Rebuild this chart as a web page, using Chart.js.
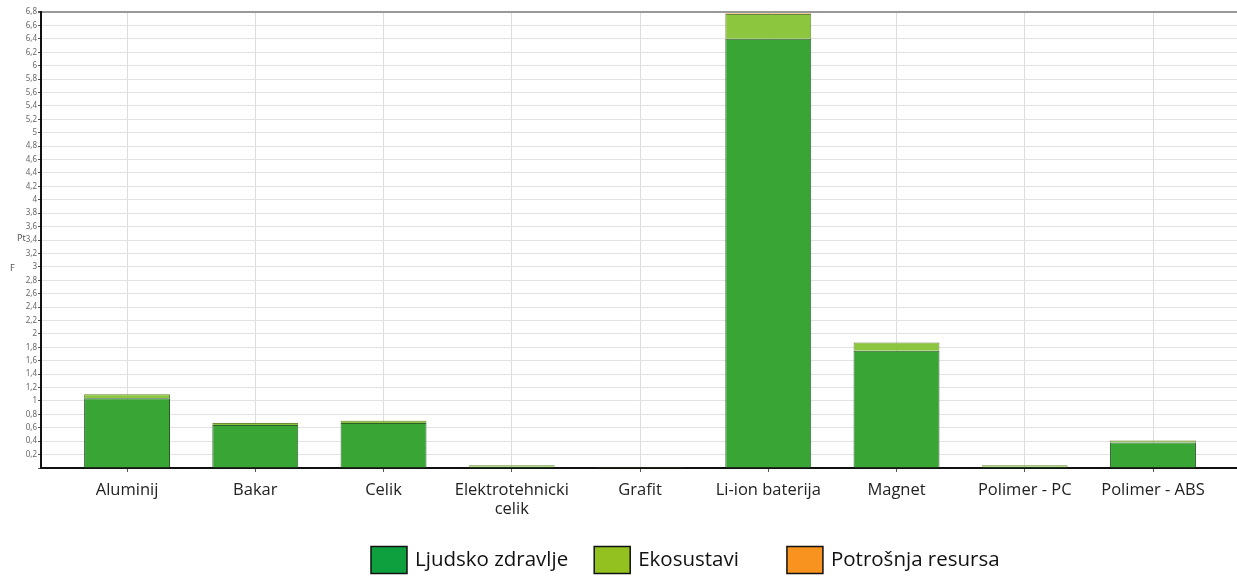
<!DOCTYPE html>
<html lang="hr">
<head>
    <meta charset="UTF-8">
    <title>Rezultati po materijalima</title>
    <style>
        * { margin: 0; padding: 0; }
        body { background: white; }
        #wrap { width: 1237px; height: 583px; }
    </style>
</head>
<body>
    <div id="wrap"><canvas id="chart" width="1237" height="583"></canvas></div>

    <script src="https://cdn.jsdelivr.net/npm/chart.js"></script>
    <script>
        // kategorije (materijali)
        const materijali = ['Aluminij', 'Bakar', 'Celik', ['Elektrotehnicki', 'celik'], 'Grafit',
            'Li-ion baterija', 'Magnet', 'Polimer - PC', 'Polimer - ABS'];

        // vrijednosti u Pt, ocitane sa slike
        const ljudskoZdravlje = [1.04, 0.64, 0.67, 0.02, 0.003, 6.40, 1.75, 0.02, 0.38];
        const ekosustavi      = [0.06, 0.03, 0.035, 0.02, 0.002, 0.37, 0.12, 0.02, 0.03];
        const potrosnja       = [0.005, 0.004, 0.004, 0.001, 0.001, 0.01, 0.005, 0.001, 0.003];

        const yMax = 6.8;
        const yStep = 0.2;

        const toPoints = arr => arr.map((v, i) => ({ x: i, y: v }));

        const legendFill = ['#0ea03e', '#92c120', '#f7931e'];

        // legenda ispod grafa - razmaci kao na originalu (nije centrirana)
        const bottomLegend = {
            id: 'bottomLegend',
            afterDraw(chart) {
                const c = chart.ctx;
                const boxW = 36, boxH = 27, textGap = 8;
                const gaps = [26, 48];
                const yMid = 560;
                let x = 371;
                c.save();
                c.font = '20.5px "Open Sans"';
                c.textBaseline = 'middle';
                chart.data.datasets.forEach((ds, i) => {
                    c.fillStyle = legendFill[i];
                    c.fillRect(x, yMid - boxH / 2, boxW, boxH);
                    c.lineWidth = 1.5;
                    c.strokeStyle = '#111';
                    c.strokeRect(x, yMid - boxH / 2, boxW, boxH);
                    c.fillStyle = '#111';
                    const tx = x + boxW + textGap;
                    c.fillText(ds.label, tx, yMid);
                    x = tx + c.measureText(ds.label).width + (gaps[i] || 0);
                });
                // mali tekst uz os Y (kao na originalu)
                c.fillStyle = '#555';
                c.font = '9px "Noto Sans"';
                c.textBaseline = 'alphabetic';
                c.fillText('Pt', 17, 241);
                c.fillText('F', 10, 271);
                c.restore();
            }
        };

        new Chart(document.getElementById('chart'), {
            type: 'bar',
            data: {
                datasets: [
                    {
                        label: 'Ljudsko zdravlje',
                        data: toPoints(ljudskoZdravlje),
                        backgroundColor: '#38a534',
                        borderColor: '#2b5e2a',
                        borderWidth: 1
                    },
                    {
                        label: 'Ekosustavi',
                        data: toPoints(ekosustavi),
                        backgroundColor: '#8cc63e',
                        borderColor: '#6a8a3a',
                        borderWidth: 1
                    },
                    {
                        label: 'Potrošnja resursa',
                        data: toPoints(potrosnja),
                        backgroundColor: '#f7931e',
                        borderColor: '#c9a04a',
                        borderWidth: 1
                    }
                ]
            },
            options: {
                responsive: false,
                animation: false,
                barPercentage: 0.67,
                categoryPercentage: 1,
                layout: { padding: { top: 12, right: 0, left: 0, bottom: 0 } },
                plugins: {
                    tooltip: { enabled: false },
                    legend: { display: false }
                },
                scales: {
                    x: {
                        type: 'linear',
                        stacked: true,
                        offset: false,
                        min: -0.671,
                        max: 8.655,
                        afterBuildTicks: axis => {
                            axis.ticks = materijali.map((_, i) => ({ value: i }));
                        },
                        afterFit: s => { s.height = 115; },
                        border: { color: '#111', width: 2 },
                        grid: { offset: false, color: '#dcdcdc', tickLength: 4, tickColor: '#555' },
                        ticks: {
                            autoSkip: false,
                            maxRotation: 0,
                            padding: 8,
                            color: '#222',
                            font: { family: '"Open Sans"', size: 16.5 },
                            callback: v => materijali[v] ?? ''
                        }
                    },
                    y: {
                        stacked: true,
                        min: 0,
                        max: yMax,
                        afterFit: s => { s.width = 41; },
                        border: { color: '#111', width: 2 },
                        grid: {
                            color: c => (c.tick && c.tick.value >= yMax - 0.01) ? '#999' : '#e2e2e2',
                            lineWidth: c => (c.tick && c.tick.value >= yMax - 0.01) ? 2 : 1,
                            tickLength: 3,
                            tickColor: '#555'
                        },
                        ticks: {
                            stepSize: yStep,
                            autoSkip: false,
                            padding: 1,
                            color: '#666',
                            font: { family: '"Noto Sans"', size: 8 },
                            callback: v => v === 0 ? '' : String(Math.round(v * 10) / 10).replace('.', ',')
                        }
                    }
                }
            },
            plugins: [bottomLegend]
        });
    </script>
</body>
</html>
